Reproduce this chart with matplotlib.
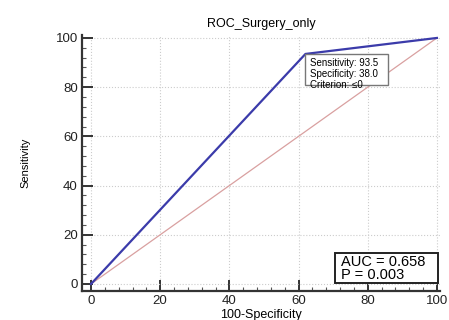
import matplotlib
matplotlib.use("Agg")
import matplotlib.pyplot as plt
from matplotlib.patches import Rectangle
from matplotlib.ticker import MultipleLocator

plt.rcParams["font.family"] = ["Liberation Sans", "DejaVu Sans"]

# ROC curve points (100-Specificity, Sensitivity)
fpr = [0, 62.0, 100]
tpr = [0, 93.5, 100]
diag = [0, 100]
sens, spec, crit = 93.5, 38.0, "≤0"
auc, pval = 0.658, 0.003
title = "ROC_Surgery_only"

fig = plt.figure(figsize=(4.49, 3.2), dpi=100)
W, H = 449, 320
ax = fig.add_axes([82 / W, 1 - 291 / H, (440 - 82) / W, (291 - 35) / H])

ax.plot(diag, diag, color="#d9a0a0", lw=0.9, zorder=2)
ax.plot(fpr, tpr, color="#3b3baa", lw=1.6, zorder=3)

ax.set_xlim(-2.6, 100.9)
ax.set_ylim(-2.85, 101.2)
ax.xaxis.set_major_locator(MultipleLocator(20))
ax.yaxis.set_major_locator(MultipleLocator(20))
ax.xaxis.set_minor_locator(MultipleLocator(4))
ax.yaxis.set_minor_locator(MultipleLocator(4))
ax.grid(True, which="major", color="#cccccc", ls=":", lw=0.8, zorder=0)

for s in ("top", "right"):
    ax.spines[s].set_visible(False)
for s in ("left", "bottom"):
    ax.spines[s].set_linewidth(1.6)
    ax.spines[s].set_color("#333333")
ax.tick_params(which="major", direction="in", length=8, width=1.4, color="#333333",
               labelsize=9.5, labelcolor="#222222", pad=3)
ax.tick_params(which="minor", direction="in", length=3, width=0.8, color="#555555")

ax.set_title(title, fontsize=9, pad=6)
ax.set_xlabel("100-Specificity", fontsize=9, labelpad=1)
ax.set_ylabel("Sensitivity", fontsize=8, labelpad=18, fontstretch="condensed")

# criterion callout
ax.add_patch(Rectangle((62.0, 80.9), 23.8, 12.6, fc="white", ec="#777777", lw=1.0, zorder=5))
ax.text(63.3, 92.0,
        f"Sensitivity: {sens}\nSpecificity: {spec}\nCriterion: {crit}",
        fontsize=7, va="top", ha="left", linespacing=1.12, zorder=6)

# AUC box
ax.add_patch(Rectangle((70.6, 0.4), 29.8, 12.2, fc="white", ec="#222222", lw=1.4, zorder=5))
ax.text(72.3, 11.9, f"AUC = {auc}\nP = {pval}",
        fontsize=10.5, va="top", ha="left", linespacing=0.95, zorder=6)

fig.savefig("out.png", dpi=100)
